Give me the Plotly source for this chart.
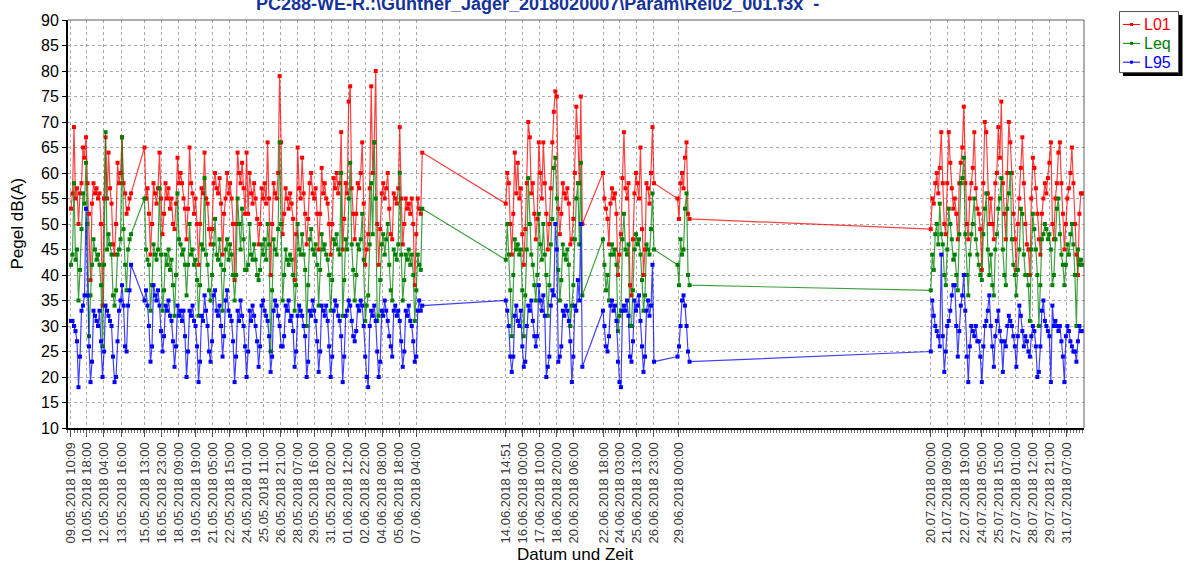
import pandas as pd
import plotly.graph_objects as go

FONT = "Liberation Sans, Arial, sans-serif"

# Measurement blocks: each block starts at the given time, values every 3 hours
block_starts = ["2018-05-09 10:09", "2018-05-15 13:00", "2018-06-14 14:51",
                "2018-06-22 17:00", "2018-06-28 22:00", "2018-07-20 00:00"]

# ---- block 1: 09.05 - 14.05 ----
l01_b1 = [53, 56, 69, 55, 57,
          50, 56, 58, 65, 63, 67, 58, 52,
          39, 54, 58, 56, 57, 55, 56, 50,
          34, 55, 67, 55, 64, 57, 54, 46,
          44, 50, 62, 58, 60, 67, 58, 56,
          52, 53, 55, 56]
leq_b1 = [42, 44, 58, 43, 45,
          35, 41, 49, 56, 54, 62, 50, 28,
          36, 42, 47, 45, 43, 44, 42, 38,
          26, 42, 68, 45, 48, 46, 44, 36,
          34, 37, 44, 45, 47, 67, 49, 42,
          37, 45, 47, 48]
l95_b1 = [31, 31, 30, 29, 27,
          18, 24, 33, 34, 36, 53, 36, 26,
          19, 23, 33, 32, 31, 30, 33, 27,
          20, 25, 34, 33, 32, 31, 30, 24,
          19, 20, 27, 33, 35, 38, 34, 26,
          25, 34, 37, 42]

# ---- block 2: 15.05 - 07.06 ----
l01_b2 = [65, 55, 57, 52,
          44, 50, 58, 56, 54, 57, 64, 55,
          48, 52, 58, 55, 57, 53, 55, 50,
          49, 54, 63, 58, 60, 58, 55, 53,
          47, 53, 65, 58, 56, 52, 55, 50,
          42, 50, 57, 56, 64, 55, 54, 49,
          46, 49, 58, 60, 57, 56, 59, 54,
          44, 52, 55, 60, 56, 58, 55, 50,
          39, 50, 64, 60, 58, 62, 57, 52,
          64, 52, 60, 56, 54, 58, 55, 51,
          46, 50, 57, 55, 58, 54, 66, 55,
          40, 50, 58, 56, 55, 60, 79, 66,
          48, 52, 57, 55, 53, 56, 54, 51,
          39, 48, 65, 57, 55, 63, 56, 52,
          46, 51, 58, 60, 56, 55, 57, 52,
          45, 52, 61, 56, 58, 55, 54, 50,
          44, 50, 59, 57, 60, 56, 58, 68,
          45, 51, 58, 56, 74, 77, 57, 52,
          47, 52, 58, 57, 60, 66, 54, 42,
          45, 48, 57, 77, 60, 66, 80, 50,
          42, 49, 56, 58, 55, 57, 60, 53,
          48, 47, 56, 55, 54, 57, 69, 55,
          46, 50, 55, 53, 54, 52, 55, 50,
          38, 48, 55, 53, 52, 64]
leq_b2 = [55, 45, 43, 42,
          33, 38, 46, 44, 43, 45, 57, 44,
          33, 37, 44, 42, 45, 41, 43, 38,
          32, 40, 56, 47, 46, 44, 45, 42,
          36, 42, 50, 44, 45, 42, 43, 39,
          32, 38, 46, 45, 59, 44, 42, 37,
          35, 40, 46, 51, 44, 43, 47, 42,
          33, 41, 45, 47, 43, 46, 44, 40,
          35, 40, 55, 50, 45, 53, 47, 41,
          41, 42, 50, 44, 43, 46, 43, 40,
          39, 41, 46, 44, 47, 43, 50, 46,
          25, 37, 47, 45, 44, 49, 66, 50,
          35, 40, 45, 43, 42, 44, 43, 40,
          33, 38, 50, 45, 44, 48, 44, 41,
          30, 38, 47, 49, 45, 44, 46, 42,
          34, 41, 48, 45, 46, 44, 43, 40,
          33, 39, 47, 46, 48, 45, 44, 60,
          32, 39, 47, 45, 55, 62, 46, 41,
          35, 40, 46, 45, 47, 52, 43, 31,
          34, 36, 46, 58, 48, 66, 55, 31,
          32, 39, 46, 48, 44, 47, 50, 42,
          37, 35, 45, 44, 43, 46, 60, 44,
          35, 39, 44, 43, 45, 42, 44, 40,
          31, 37, 44, 42, 41, 53]
l95_b2 = [35, 37, 34, 30,
          23, 26, 38, 36, 35, 37, 34, 29,
          25, 28, 34, 33, 35, 32, 31, 27,
          22, 26, 34, 32, 33, 31, 33, 28,
          20, 25, 33, 32, 34, 31, 30, 26,
          19, 23, 32, 31, 36, 33, 30, 25,
          23, 27, 36, 37, 33, 32, 34, 30,
          24, 28, 35, 37, 33, 32, 31, 27,
          19, 24, 33, 31, 35, 32, 30, 26,
          20, 25, 33, 31, 34, 32, 30, 27,
          22, 26, 34, 35, 33, 32, 31, 28,
          21, 24, 33, 35, 34, 32, 30, 26,
          26, 28, 34, 33, 35, 31, 32, 29,
          22, 25, 32, 34, 33, 32, 30, 28,
          20, 23, 33, 32, 35, 33, 31, 27,
          21, 25, 34, 33, 32, 34, 31, 26,
          20, 24, 33, 35, 34, 32, 31, 28,
          19, 24, 32, 33, 35, 34, 31, 28,
          27, 29, 34, 33, 35, 34, 30, 24,
          20, 18, 30, 33, 32, 34, 31, 25,
          20, 23, 33, 32, 35, 33, 31, 28,
          26, 24, 33, 34, 32, 33, 31, 27,
          22, 25, 33, 32, 34, 31, 30, 27,
          23, 24, 33, 35, 33, 34]

# ---- block 3: 14.06 - 20.06 ----
l01_b3 = [54, 60, 58, 50,
          44, 52, 64, 56, 62, 55, 57, 48,
          42, 49, 58, 70, 67, 56, 58, 52,
          47, 51, 66, 60, 55, 66, 58, 52,
          45, 50, 57, 66, 72, 76, 75, 53,
          48, 52, 58, 56, 55, 57, 54, 46,
          47, 51, 60, 73, 67, 58, 75, 50]
leq_b3 = [43, 50, 44, 37,
          28, 40, 47, 45, 46, 44, 45, 37,
          28, 36, 45, 59, 50, 44, 42, 38,
          35, 40, 52, 46, 43, 50, 44, 40,
          32, 38, 46, 51, 61, 63, 55, 41,
          35, 39, 46, 44, 43, 45, 42, 30,
          34, 38, 47, 55, 58, 46, 62, 36]
l95_b3 = [35, 33, 30, 24,
          21, 24, 32, 34, 31, 30, 33, 26,
          22, 23, 30, 34, 33, 35, 31, 28,
          26, 28, 38, 35, 33, 36, 32, 20,
          22, 24, 34, 37, 36, 50, 45, 23,
          24, 26, 33, 32, 34, 33, 31, 27,
          19, 24, 34, 33, 39, 35, 50, 22]

# ---- block 4: 22.06 - 26.06 ----
l01_b4 = [60, 55, 53,
          51, 46, 54, 57, 55, 56, 52, 40,
          44, 48, 59, 68, 57, 55, 58, 38,
          36, 47, 56, 60, 58, 55, 65, 49,
          40, 45, 58, 57, 54, 60, 69, 58]
leq_b4 = [47, 42, 37,
          40, 35, 44, 46, 44, 45, 42, 29,
          32, 33, 47, 52, 45, 44, 46, 30,
          30, 37, 45, 48, 46, 47, 44, 39,
          33, 36, 46, 45, 44, 49, 56, 45]
l95_b4 = [33, 30, 26,
          25, 28, 34, 35, 33, 34, 31, 23,
          19, 18, 33, 34, 33, 35, 32, 24,
          23, 27, 35, 33, 34, 36, 31, 26,
          21, 24, 33, 35, 32, 34, 42, 23]

# ---- block 5: 28.06 - 29.06 ----
l01_b5 = [55, 51, 58, 60, 57, 63, 66, 52, 51]
leq_b5 = [42, 38, 47, 44, 45, 53, 56, 40, 38]
l95_b5 = [24, 26, 30, 35, 36, 34, 30, 25, 23]

# ---- block 6: 20.07 - 01.08 ----
l01_b6 = [49, 55, 54, 58, 60, 56, 61, 68,
          58, 50, 48, 58, 68, 62, 57, 53,
          55, 52, 47, 58, 62, 65, 73, 58,
          50, 47, 55, 58, 61, 68, 57, 53,
          52, 49, 41, 58, 70, 68, 56, 50,
          55, 50, 47, 58, 60, 69, 63, 74,
          58, 52, 47, 60, 70, 66, 60, 52,
          47, 41, 50, 55, 61, 67, 58, 50,
          46, 45, 40, 55, 63, 61, 57, 52,
          47, 44, 52, 55, 58, 56, 59, 62,
          66, 50, 47, 55, 58, 64, 66, 58,
          52, 45, 50, 55, 57, 60, 65, 58,
          50, 44, 40, 52, 56, 56]
leq_b6 = [37, 44, 41, 48, 50, 46, 54, 48,
          46, 40, 38, 45, 53, 50, 47, 43,
          44, 40, 37, 48, 58, 59, 63, 48,
          40, 36, 44, 48, 50, 55, 47, 44,
          42, 40, 39, 48, 53, 56, 45, 40,
          44, 38, 36, 45, 48, 53, 55, 59,
          45, 40, 38, 53, 56, 60, 47, 42,
          40, 36, 41, 45, 53, 52, 44, 40,
          40, 38, 31, 45, 52, 49, 45, 40,
          30, 38, 47, 48, 50, 49, 47, 48,
          45, 38, 40, 47, 53, 55, 48, 44,
          42, 38, 42, 46, 44, 48, 50, 46,
          40, 30, 45, 42, 43, 42]
l95_b6 = [25, 35, 32, 30, 29, 28, 26, 44,
          28, 21, 25, 30, 31, 33, 36, 38,
          38, 30, 24, 29, 34, 36, 40, 33,
          24, 19, 26, 30, 29, 28, 30, 27,
          27, 24, 19, 26, 30, 31, 33, 36,
          30, 26, 22, 28, 31, 33, 29, 27,
          21, 27, 26, 30, 32, 31, 30, 28,
          26, 22, 28, 34, 32, 29, 26, 28,
          27, 25, 24, 28, 30, 29, 26, 20,
          21, 26, 33, 35, 31, 30, 29, 28,
          19, 34, 30, 31, 30, 29, 30, 27,
          24, 19, 28, 30, 29, 27, 26, 25,
          25, 23, 27, 30, 29, 29]

l01_blocks = [l01_b1, l01_b2, l01_b3, l01_b4, l01_b5, l01_b6]
leq_blocks = [leq_b1, leq_b2, leq_b3, leq_b4, leq_b5, leq_b6]
l95_blocks = [l95_b1, l95_b2, l95_b3, l95_b4, l95_b5, l95_b6]

# Axis tick positions (time stamps of labelled samples)
tick_times = ["2018-05-09 10:09", "2018-05-10 18:00", "2018-05-12 04:00", "2018-05-13 16:00",
              "2018-05-15 13:00", "2018-05-16 23:00", "2018-05-18 09:00", "2018-05-19 19:00",
              "2018-05-21 05:00", "2018-05-22 15:00", "2018-05-24 01:00", "2018-05-25 11:00",
              "2018-05-26 21:00", "2018-05-28 07:00", "2018-05-29 16:00", "2018-05-31 02:00",
              "2018-06-01 12:00", "2018-06-02 22:00", "2018-06-04 08:00", "2018-06-05 18:00",
              "2018-06-07 04:00", "2018-06-14 14:51", "2018-06-16 00:00", "2018-06-17 10:00",
              "2018-06-18 20:00", "2018-06-20 06:00", "2018-06-22 18:00", "2018-06-24 03:00",
              "2018-06-25 13:00", "2018-06-26 23:00", "2018-06-29 00:00", "2018-07-20 00:00",
              "2018-07-21 09:00", "2018-07-22 19:00", "2018-07-24 05:00", "2018-07-25 15:00",
              "2018-07-27 01:00", "2018-07-28 12:00", "2018-07-29 21:00", "2018-07-31 07:00"]
y_ticks = list(range(10, 95, 5))

# ---- assemble the series ----
times = []
for start, vals in zip(block_starts, l01_blocks):
    times.extend(pd.date_range(start, periods=len(vals), freq="3h"))
l01 = [v for b in l01_blocks for v in b]
leq = [v for b in leq_blocks for v in b]
l95 = [v for b in l95_blocks for v in b]

series = [("L01", l01, "#ff0000", "rgba(255,0,0,0.75)"),
          ("Leq", leq, "#008000", "rgba(0,128,0,0.75)"),
          ("L95", l95, "#0000ff", "rgba(0,0,255,0.75)")]

fig = go.Figure()
for name, vals, col, lcol in series:
    fig.add_trace(go.Scatter(
        x=times, y=vals, name=name, mode="lines+markers",
        line=dict(color=lcol, width=1.2),
        marker=dict(symbol="square", size=4, color=col, line=dict(width=0)),
        showlegend=False, hoverinfo="x+y+name"))

# plot area in pixels
PL, PR, PT, PB = 68, 1084, 17, 428


def px(x):
    return (x - PL) / (PR - PL)


def py(y):
    return (PB - y) / (PB - PT)


tick_dt = pd.to_datetime(tick_times)
tick_text = [t.strftime("%d.%m.%Y %H:%M") for t in tick_dt]

grid = dict(showgrid=True, gridcolor="#a8a8a8", gridwidth=1, griddash="3px,3px")

fig.update_layout(
    width=1184, height=564, autosize=False,
    margin=dict(l=PL, r=1184 - PR, t=PT, b=564 - PB, pad=0),
    paper_bgcolor="white", plot_bgcolor="white",
    font=dict(family=FONT, color="black"),
    xaxis=dict(type="date", range=["2018-05-09 04:10", "2018-08-01 18:10"],
               tickmode="array", tickvals=tick_dt, ticktext=tick_text,
               tickangle=-90, tickfont=dict(size=13, color="#383838"),
               ticks="outside", ticklen=7, tickcolor="#505050",
               showline=True, linecolor="black", linewidth=2, zeroline=False,
               minor=dict(tickmode="linear", tick0="2018-05-09 10:09", dtick=6 * 3600 * 1000,
                          ticks="outside", ticklen=3, tickcolor="#707070", showgrid=False),
               **grid),
    yaxis=dict(range=[10, 90], tickmode="array", tickvals=y_ticks,
               tickfont=dict(size=16, color="black"),
               ticks="outside", ticklen=4, tickcolor="black",
               showline=True, linecolor="black", linewidth=2, zeroline=False,
               **grid),
)

shapes = [
    # thin top and right frame lines
    dict(type="line", xref="paper", yref="paper", x0=0, x1=1, y0=1, y1=1,
         line=dict(color="#606060", width=1)),
    dict(type="line", xref="paper", yref="paper", x0=1, x1=1, y0=0, y1=1,
         line=dict(color="#606060", width=1)),
    # legend box with drop shadow
    dict(type="rect", xref="paper", yref="paper", x0=px(1123), x1=px(1182.5),
         y0=py(73.5), y1=py(12), fillcolor="black", line=dict(width=0)),
    dict(type="rect", xref="paper", yref="paper", x0=px(1119.5), x1=px(1178.5),
         y0=py(70), y1=py(8.5), fillcolor="white", line=dict(color="#505050", width=1)),
]
annotations = []
for i, (name, vals, col, lcol) in enumerate(series):
    yc = 21.5 + i * 19
    shapes.append(dict(type="line", xref="paper", yref="paper", x0=px(1123), x1=px(1140),
                       y0=py(yc), y1=py(yc), line=dict(color=col, width=1)))
    shapes.append(dict(type="rect", xref="paper", yref="paper", x0=px(1130), x1=px(1133),
                       y0=py(yc + 1.5), y1=py(yc - 1.5), fillcolor=col, line=dict(width=0)))
    annotations.append(dict(text=name, xref="paper", yref="paper", x=px(1142), y=py(yc),
                            xanchor="left", yanchor="middle", showarrow=False,
                            font=dict(size=16, color=col, family=FONT)))

annotations += [
    dict(text="<b>PC288-WE-R.:\\Günther_Jäger_2018020007\\Param\\Rel02_001.f3x  -</b>",
         xref="paper", yref="paper", x=px(537), y=py(1), xanchor="center", yanchor="middle",
         showarrow=False, font=dict(size=18, color="#14329a", family=FONT)),
    dict(text="Pegel dB(A)", xref="paper", yref="paper", x=px(18), y=py(222),
         xanchor="center", yanchor="middle", textangle=-90, showarrow=False,
         font=dict(size=17, color="black", family=FONT)),
    dict(text="Datum und Zeit", xref="paper", yref="paper", x=px(575), y=py(555),
         xanchor="center", yanchor="middle", showarrow=False,
         font=dict(size=17, color="black", family=FONT)),
]
fig.update_layout(shapes=shapes, annotations=annotations)

fig.write_html("out.html", config={"displayModeBar": False})
